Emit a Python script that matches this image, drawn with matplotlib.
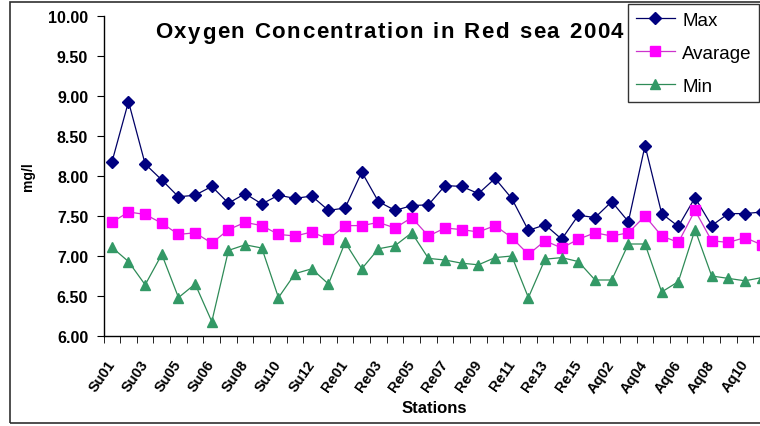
import numpy as np
import matplotlib
matplotlib.use('Agg')
import matplotlib.pyplot as plt
from matplotlib.patches import Rectangle

plt.rcParams['font.family'] = ['Liberation Sans', 'DejaVu Sans']

stations = [
    'Su01', 'Su02', 'Su03', 'Su04', 'Su05', 'Su05b', 'Su06', 'Su07', 'Su08', 'Su09',
    'Su10', 'Su11', 'Su12', 'Su13', 'Re01', 'Re02', 'Re03', 'Re04', 'Re05', 'Re06',
    'Re07', 'Re08', 'Re09', 'Re10', 'Re11', 'Re12', 'Re13', 'Re14', 'Re15', 'Aq01',
    'Aq02', 'Aq03', 'Aq04', 'Aq05', 'Aq06', 'Aq07', 'Aq08', 'Aq09', 'Aq10', 'Aq11',
]

o2_max = [
    8.17, 8.93, 8.15, 7.95, 7.74, 7.76, 7.87, 7.66, 7.78, 7.65,
    7.76, 7.72, 7.75, 7.57, 7.60, 8.05, 7.68, 7.57, 7.63, 7.64,
    7.88, 7.87, 7.78, 7.97, 7.72, 7.32, 7.39, 7.21, 7.51, 7.48,
    7.68, 7.43, 8.38, 7.53, 7.37, 7.73, 7.38, 7.53, 7.53, 7.55,
]
o2_avg = [
    7.42, 7.55, 7.52, 7.41, 7.27, 7.29, 7.16, 7.33, 7.42, 7.38,
    7.27, 7.25, 7.30, 7.21, 7.38, 7.38, 7.42, 7.35, 7.48, 7.25,
    7.35, 7.33, 7.30, 7.38, 7.23, 7.02, 7.19, 7.10, 7.21, 7.29,
    7.25, 7.29, 7.50, 7.25, 7.17, 7.57, 7.19, 7.17, 7.23, 7.14,
]
o2_min = [
    7.11, 6.93, 6.64, 7.02, 6.48, 6.65, 6.18, 7.07, 7.14, 7.10,
    6.48, 6.78, 6.84, 6.65, 7.17, 6.84, 7.09, 7.13, 7.29, 6.97,
    6.95, 6.91, 6.89, 6.98, 7.00, 6.48, 6.96, 6.98, 6.93, 6.70,
    6.70, 7.15, 7.15, 6.55, 6.68, 7.33, 6.75, 6.72, 6.69, 6.73,
]

W, H = 760, 427
x = np.arange(len(stations))

fig = plt.figure(figsize=(W / 100, H / 100), dpi=100)
fig.patch.set_facecolor('white')


def spaced_text(fig, cx, cy, s, width, **kw):
    """Write s centred at pixel (cx, cy), letters spread to the given width."""
    r = fig.canvas.get_renderer()
    widths = []
    for ch in s:
        t = fig.text(0, 0, ch if ch != ' ' else 'n', **kw)
        w = t.get_window_extent(r).width
        t.remove()
        widths.append(w * 0.5 if ch == ' ' else w)
    gap = (width - sum(widths)) / (len(s) - 1)
    pos = cx - width / 2
    for ch, w in zip(s, widths):
        if ch != ' ':
            fig.text(pos / W, 1 - cy / H, ch, ha='left', va='center', **kw)
        pos += w + gap


# plot area runs off the right edge of the chart, like the original export
ax = fig.add_axes([103.5 / W, 90 / H, 666.5 / W, 320 / H])

ax.plot(x, o2_max, color='#000066', lw=0.9, marker='D', ms=6.5,
        mfc='#000080', mec='#000080', label='Max', clip_on=False)
ax.plot(x, o2_avg, color='#cc33cc', lw=0.9, marker='s', ms=7,
        mfc='#ff00ff', mec='#ff00ff', label='Avarage', clip_on=False)
ax.plot(x, o2_min, color='#2e8b57', lw=0.9, marker='^', ms=7.5,
        mfc='#339966', mec='#339966', label='Min', clip_on=False)

ax.set_xlim(-0.5, len(stations) - 0.5)
ax.set_ylim(6, 10)
yt = np.arange(6, 10.01, 0.5)
ax.set_yticks(yt)
ax.set_yticklabels([f'{v:.2f}' for v in yt], fontweight='bold', fontsize=11.5)

ax.set_xticks(x[::2])
ax.set_xticklabels(stations[::2], rotation=55, ha='right', va='center',
                   rotation_mode='anchor', fontweight='bold', fontsize=10.5)
ax.set_xticks(np.arange(-0.5, len(stations), 1), minor=True)
ax.tick_params(axis='x', which='major', length=0, pad=18)
ax.tick_params(axis='x', which='minor', length=5, direction='out')
ax.tick_params(axis='y', length=5, direction='out', pad=6)

for side in ['top', 'right']:
    ax.spines[side].set_visible(False)
for side in ['left', 'bottom']:
    ax.spines[side].set_linewidth(1.0)

spaced_text(fig, 389, 33, 'Oxygen Concentration in Red sea 2004', 468,
            fontsize=16, fontweight='bold')
fig.text(28 / W, 1 - 177 / H, 'mg/l', rotation=90, ha='center',
         va='center', fontsize=10, fontweight='bold')
fig.text(434 / W, 1 - 409 / H, 'Stations', ha='center', va='center',
         fontsize=12, fontweight='bold')

leg = fig.legend(loc='upper left', bbox_to_anchor=(628 / W, 1 - 5 / H),
                 fontsize=13.5, frameon=True, fancybox=False, edgecolor='black',
                 handlelength=2.1, labelspacing=0.85, borderpad=0.4,
                 handletextpad=0.4, borderaxespad=0)
leg.get_frame().set_linewidth(1.0)

# outer chart border
fig.add_artist(Rectangle((10 / W, 3 / H), 1.0, 421 / H,
                         transform=fig.transFigure, fill=False,
                         ec='#303030', lw=1.2))

fig.savefig('out.png', dpi=100)
